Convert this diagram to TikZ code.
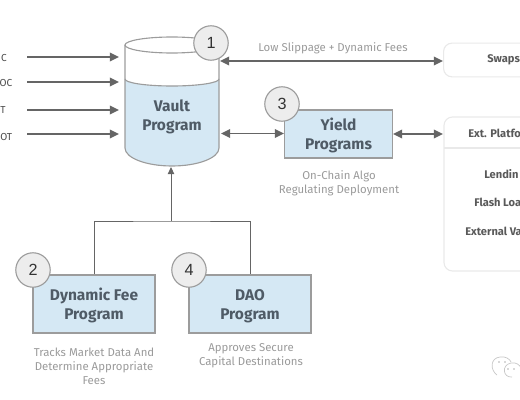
\documentclass[tikz,border=0pt]{standalone}
\usepackage{fontspec}
\setmainfont{Fira Sans}
\newfontfamily\numfont{Liberation Sans}
\usetikzlibrary{arrows.meta}
\newcommand{\topgap}{\rule{0pt}{10.6pt}}
\definecolor{waterblue}{HTML}{D5E8F4}
\definecolor{inkgray}{HTML}{4F5B66}
\definecolor{linegray}{HTML}{656565}
\definecolor{edgegray}{HTML}{9C9C9C}
\definecolor{capgray}{HTML}{9A9A9A}
\definecolor{panelgray}{HTML}{E9E9E9}
\tikzset{
	flow/.style={draw=linegray,line width=1.4pt,-{Triangle[length=6.5pt,width=6pt]}},
	flowboth/.style={draw=linegray,line width=1.4pt,{Triangle[length=6.5pt,width=6pt]}-{Triangle[length=6.5pt,width=6pt]}},
	tree/.style={draw=linegray,line width=.7pt},
	progbox/.style={draw=edgegray,line width=1pt,fill=waterblue,align=center,text=inkgray,font=\fontsize{11}{13.2}\selectfont\bfseries,inner sep=0pt},
	badge/.style={circle,draw=edgegray,line width=.8pt,fill=black!7,minimum size=24.5pt,inner sep=0pt,text=black!80,font=\numfont\fontsize{11.5}{11.5}\selectfont},
	panel/.style={draw=panelgray,line width=.8pt,rounded corners=6pt},
	caption/.style={align=center,text=capgray,font=\fontsize{8.1}{10}\selectfont},
	side/.style={text=black!65,font=\fontsize{7.9}{9}\selectfont\bfseries,inner sep=0pt},
	coin/.style={text=black!70,font=\fontsize{7.2}{9}\selectfont,inner sep=0pt,anchor=east}
}
\begin{document}
\begin{tikzpicture}[x=.025cm,y=-.025cm]
	\useasboundingbox (0,0) rectangle (520,400);
	\clip (0,0) rectangle (520,400);
	% vault
	\fill[waterblue] (125,79) arc[start angle=180,end angle=0,x radius=47,y radius=7] -- (219,148) arc[start angle=0,end angle=180,x radius=47,y radius=18] -- cycle;
	\draw[edgegray,line width=.8pt] (125,45) -- (125,148) arc[start angle=180,end angle=0,x radius=47,y radius=18] -- (219,45);
	\draw[edgegray,line width=.8pt] (172,45) ellipse[x radius=47,y radius=8];
	\draw[edgegray,line width=.8pt] (125,79) arc[start angle=180,end angle=0,x radius=47,y radius=7];
	\node[align=center,text=inkgray,font=\fontsize{11}{13.2}\selectfont\bfseries] (vault) at (172,117) {Vault\\Program};
	\node[badge] (one) at (211,43) {1};
	% tokens
	\coordinate (vaultA) at (119,57);
	\coordinate (vaultB) at (119,82);
	\coordinate (vaultC) at (119,110);
	\coordinate (vaultD) at (119,134);
	\node[coin] (tokA) at (7,58) {C};
	\node[coin] (tokB) at (12.5,83) {OC};
	\node[coin] (tokC) at (6,110) {T};
	\node[coin] (tokD) at (12.5,137) {OT};
	\coordinate (startA) at (27,57);
	\coordinate (startB) at (27,82);
	\coordinate (startC) at (27,110);
	\coordinate (startD) at (27,134);
	\foreach \n in {A,B,C,D}
		\draw[flow] (start\n) -- (vault\n);
	% yield
	\node[progbox,minimum width=76.5pt,minimum height=34pt] (yield) at (338.5,134) {\topgap Yield\\Programs};
	\node[badge] (three) at (282,104) {3};
	\node[caption] (yieldcap) at (339,183) {On-Chain Algo\\Regulating Deployment};
	\coordinate (vaultE) at (221,133.5);
	\draw[flowboth] (vaultE) -- (yield.west |- vaultE);
	% swaps
	\node[panel,minimum width=90pt,minimum height=24pt,anchor=west] (swaps) at (443,60) {};
	\node[side,anchor=west] (swapstext) at (487,60) {Swaps};
	\coordinate (vaultF) at (220,61);
	\draw[flowboth] (vaultF) -- (swaps.west |- vaultF);
	\node[text=capgray,font=\fontsize{8.1}{9}\selectfont,inner sep=0pt] (swapcap) at (333,48) {Low Slippage + Dynamic Fees};
	% platforms
	\draw[panel] (444,117) rectangle (560,271);
	\draw[panelgray,line width=.8pt] (444,148) -- (520,148);
	\coordinate (extport) at (443,134);
	\draw[flowboth] (yield.east |- extport) -- (extport);
	\node[side,anchor=west] (exttext) at (468,133) {Ext. Platfo};
	\node[side,anchor=west] (lend) at (484,174) {Lendin};
	\node[side,anchor=west] (flash) at (474,202) {Flash Loa};
	\node[side,anchor=west] (extval) at (465,231) {External Va};
	% fee and dao
	\node[progbox,minimum width=86.5pt,minimum height=41pt] (fee) at (94,304) {\topgap Dynamic Fee\\Program};
	\node[progbox,minimum width=86.5pt,minimum height=41pt] (dao) at (250,304) {\topgap DAO\\Program};
	\node[badge] (two) at (33,270) {2};
	\node[badge] (four) at (189,270) {4};
	\node[caption] (feecap) at (94,366) {Tracks Market Data And\\Determine Appropriate\\Fees};
	\node[caption] (daocap) at (251,356) {Approves Secure\\Capital Destinations};
	\coordinate (vaultG) at (171,167);
	\coordinate (join) at (171,221);
	\draw[tree] (fee.north) |- (join) -| (dao.north);
	\draw[tree,-{Triangle[length=5pt,width=4.5pt]}] (join) -- (vaultG);
	% mark
	\draw[black!22,line width=.5pt] (497,375) .. controls (490,370) and (490,358) .. (500,357) .. controls (505,356) and (510,359) .. (511,362);
	\draw[black!22,line width=.5pt] (512,377) .. controls (503,378) and (501,365) .. (511,363) .. controls (516,362) and (520,365) .. (521,368);
	\fill[black!30] (499,362) circle (.9) (505,362) circle (.9) (508,369) circle (.8) (514,369) circle (.8);
\end{tikzpicture}
\end{document}
